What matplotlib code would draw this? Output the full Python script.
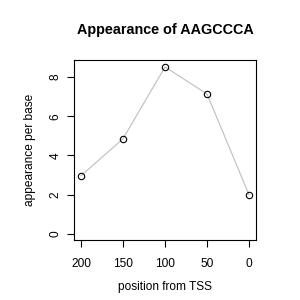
import matplotlib
matplotlib.use("Agg")
import matplotlib.pyplot as plt

positions = [200, 150, 100, 50, 0]
appearance = [2.96, 4.85, 8.52, 7.14, 1.99]
xticks = [200, 150, 100, 50, 0]
yticks = [0, 2, 4, 6, 8]

plt.rcParams['font.family'] = ['Liberation Sans', 'DejaVu Sans']

fig = plt.figure(figsize=(3, 3), dpi=100)
ax = fig.add_axes([74.3/300, 1-240.3/300, (255.7-74.3)/300, (240.3-60.3)/300])

ax.plot(positions, appearance, color='#BEBEBE', lw=0.8, zorder=1)
ax.plot(positions, appearance, 'o', mfc='none', mec='black', ms=4.6, mew=0.8, zorder=2)

ymax = max(appearance)
ax.set_ylim(-0.04*ymax, ymax*1.04)
xr = max(positions) - min(positions)
ax.set_xlim(max(positions) + 0.04*xr, min(positions) - 0.04*xr)

ax.set_xticks(xticks)
ax.set_xticklabels([str(t) for t in xticks])
ax.set_yticks(yticks)
ax.set_yticklabels([str(t) for t in yticks], rotation=90, va='center')
ax.tick_params(direction='out', length=5, width=0.8, labelsize=8.6, colors='black')
ax.tick_params(axis='x', pad=7.5)
ax.tick_params(axis='y', pad=4)
for s in ax.spines.values():
    s.set_linewidth(0.8)

fig.text(165/300, 1-30/300, 'Appearance of AAGCCCA', ha='center', va='center',
         fontsize=10.4, fontweight='bold')
fig.text(165/300, 1-286.7/300, 'position from TSS', ha='center', va='center', fontsize=8.6)
fig.text(30/300, 1-150.3/300, 'appearance per base', ha='center', va='center',
         fontsize=8.6, rotation=90)

fig.savefig('out.png', dpi=100)
